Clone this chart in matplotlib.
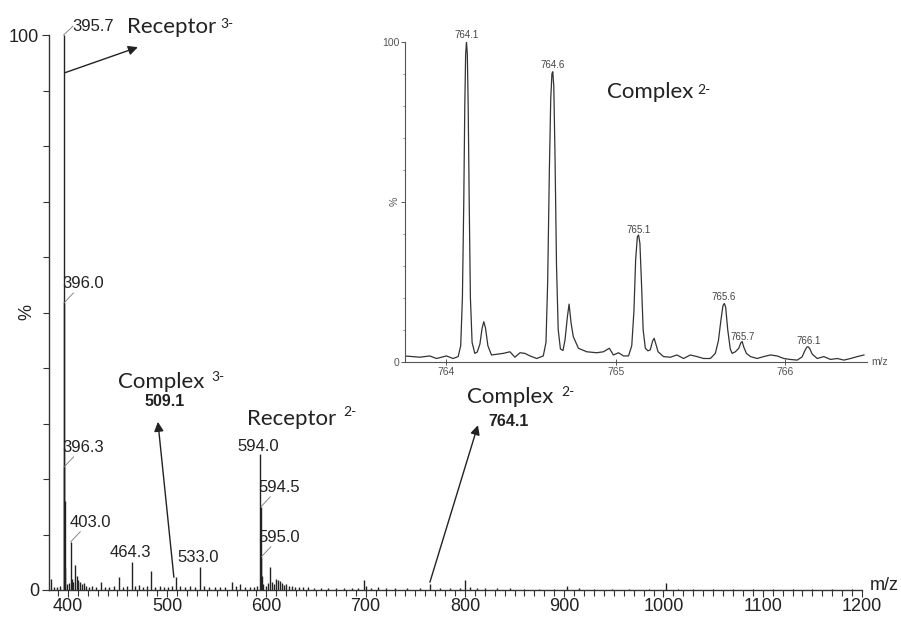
import numpy as np
import matplotlib
matplotlib.use('Agg')
import matplotlib.pyplot as plt
from matplotlib.ticker import MultipleLocator

# main spectrum (centroid sticks), m/z and relative intensity %
main_mz = [383.5, 386, 389, 392, 395.7, 396.0, 396.3, 396.7, 397.3, 399, 401, 403.0,
           404, 405.5, 407, 409, 410.5, 412, 414, 416, 418, 421, 424, 428, 433, 437,
           441, 446, 452, 456, 460, 464.3, 468, 472, 476, 480, 484, 488, 493, 497,
           501, 505, 509, 513, 518, 523, 528, 533.0, 537, 542, 548, 553, 558, 565,
           569, 573, 578, 583, 588, 591, 594.0, 594.5, 595.0, 595.5, 597, 600, 602,
           604, 606, 608, 610, 612, 614, 616, 618, 620, 623, 626, 629, 633, 637, 642,
           648, 655, 662, 670, 678, 686, 692, 698, 700, 705, 712, 720, 730, 742, 755,
           765, 775, 785, 795, 800, 805, 812, 820, 832, 845, 860, 875, 890, 903, 915,
           930, 948, 965, 985, 1003, 1015, 1030, 1050, 1070, 1090, 1110, 1130, 1150,
           1170, 1190]
main_int = [2.0, 0.6, 0.5, 0.8, 100, 51.7, 22.2, 16, 4, 1.0, 1.2, 8.7,
            2, 1.5, 4.5, 2.6, 1.8, 1.5, 1.0, 1.2, 0.8, 0.6, 0.7, 0.5, 1.4, 0.6,
            0.5, 0.7, 2.3, 0.6, 0.8, 5.1, 0.7, 0.9, 0.6, 0.7, 3.4, 0.6, 0.8, 0.5,
            0.6, 0.7, 2.3, 0.8, 0.6, 0.7, 0.5, 4.2, 0.8, 0.6, 0.5, 0.6, 0.5, 1.4,
            0.8, 1.1, 0.5, 0.6, 0.5, 0.7, 24.5, 15, 6, 2.5, 1.0, 0.8, 1.2,
            4.2, 1.5, 1.0, 2.0, 1.8, 1.6, 1.2, 0.9, 1.0, 0.8, 0.7, 0.6, 0.6, 0.5, 0.5,
            0.4, 0.4, 0.3, 0.3, 0.3, 0.4, 0.4, 1.8, 0.8, 0.4, 0.5, 0.3, 0.3, 0.3, 0.3,
            1.0, 0.3, 0.3, 0.4, 1.8, 0.5, 0.4, 0.3, 0.3, 0.3, 0.2, 0.2, 0.2, 0.7, 0.3,
            0.2, 0.2, 0.2, 0.2, 1.2, 0.2, 0.15, 0.15, 0.15, 0.15, 0.15, 0.15, 0.15,
            0.15, 0.15]

# labelled peaks: (label, peak m/z, peak %, label x, label y, ha)
peak_labels = [
    ('395.7', 395.7, 100.0, 404.0, 101.6, 'left'),
    ('396.0', 396.0, 51.7, 394.6, 55.3, 'left'),
    ('396.3', 396.3, 22.2, 394.6, 25.7, 'left'),
    ('403.0', 403.0, 8.7, 401.3, 12.1, 'left'),
    ('464.3', 464.3, 5.1, 462.5, 6.7, 'center'),
    ('533.0', 533.0, 4.2, 531.0, 5.8, 'center'),
    ('594.0', 594.0, 24.5, 591.4, 25.9, 'center'),
    ('594.5', 594.5, 15.0, 592.4, 18.5, 'left'),
    ('595.0', 595.0, 6.0, 592.4, 9.4, 'left'),
]
leader_peaks = ['395.7', '396.0', '396.3', '403.0', '594.5', '595.0']

# inset: profile trace of the Complex 2- isotope cluster
inset_mz = [763.758, 763.847, 763.906, 763.945, 764.004, 764.043, 764.073,
            764.088, 764.098, 764.106, 764.112, 764.117, 764.122, 764.127, 764.132,
            764.138, 764.145, 764.155, 764.171, 764.185, 764.201, 764.214, 764.224,
            764.234, 764.248, 764.269, 764.338, 764.378, 764.407, 764.437, 764.466,
            764.496, 764.535, 764.574, 764.590, 764.600, 764.610, 764.618, 764.625,
            764.630, 764.636, 764.643, 764.652, 764.662, 764.675, 764.690, 764.702,
            764.716, 764.726, 764.738, 764.751, 764.781, 764.830, 764.889, 764.928,
            764.963, 764.987, 765.017, 765.046, 765.076, 765.095, 765.108, 765.118,
            765.128, 765.135, 765.143, 765.152, 765.162, 765.175, 765.190, 765.204,
            765.218, 765.227, 765.237, 765.250, 765.282, 765.322, 765.361, 765.400,
            765.440, 765.479, 765.518, 765.558, 765.587, 765.605, 765.620, 765.632,
            765.640, 765.648, 765.660, 765.675, 765.686, 765.705, 765.725, 765.738,
            765.745, 765.755, 765.770, 765.794, 765.833, 765.872, 765.912, 765.951,
            765.990, 766.029, 766.069, 766.098, 766.112, 766.125, 766.132, 766.142,
            766.157, 766.187, 766.226, 766.265, 766.305, 766.344, 766.383, 766.423,
            766.462]
inset_int = [1.8, 1.4, 1.8, 1.0, 1.8, 1.0, 1.6,
             5.0, 20, 50, 80, 96, 100, 96, 80,
             50, 20, 6.0, 2.6, 3.0, 5.5, 10.5, 12.5,
             10.5, 5.0, 2.1, 2.6, 3.1, 1.4, 2.8, 2.6,
             1.8, 1.0, 1.8, 6.0, 25, 60, 82, 90,
             90.6, 86, 65, 30, 10, 4.0, 3.5, 6.8,
             14, 18.0, 12, 7.8, 4.2, 3.1, 2.8, 3.1,
             4.2, 2.1, 2.8, 1.8, 1.8, 5.0, 16, 32,
             39, 39.6, 37, 25, 10, 4.2, 3.4, 3.7,
             6.5, 7.3, 5.5, 3.1, 1.6, 1.4, 2.1, 1.0,
             2.1, 1.6, 1.0, 1.0, 2.6, 6.5, 13, 17.5,
             18.2, 17, 10, 4.0, 2.6, 3.1, 4.2, 6.0,
             6.3, 4.5, 2.6, 1.6, 1.0, 1.6, 2.1, 1.8,
             1.0, 0.7, 0.5, 1.5, 3.2, 4.5, 4.7, 4.2,
             2.4, 1.0, 1.6, 0.7, 1.0, 0.5, 1.0, 1.6,
             2.1]
inset_labels = [('764.1', 764.122, 102.1), ('764.6', 764.63, 92.6),
                ('765.1', 765.135, 41.3), ('765.6', 765.639, 20.2),
                ('765.7', 765.749, 7.7), ('766.1', 766.136, 6.5)]

num_font = 'Liberation Sans'
name_font = 'Lato'
ink = '#222222'

fig = plt.figure(figsize=(9.01, 6.19), dpi=100)
ax = fig.add_axes([49/901, 1 - 590/619, (862 - 49)/901, 555/619])
ax.vlines(main_mz, 0, main_int, color=ink, lw=1.0)
ax.set_xlim(381, 1200)
ax.set_ylim(0, 100)
for s in ['top', 'right']:
    ax.spines[s].set_visible(False)
for s in ['left', 'bottom']:
    ax.spines[s].set_color('#333333')
    ax.spines[s].set_linewidth(1.0)

ax.xaxis.set_major_locator(MultipleLocator(100))
ax.xaxis.set_minor_locator(MultipleLocator(10))
ax.set_yticks([0, 100])
ax.yaxis.set_minor_locator(MultipleLocator(10))
ax.tick_params(axis='both', which='major', length=5, width=0.8, color='#333333',
               labelsize=13, labelcolor=ink)
ax.tick_params(axis='both', which='minor', length=4, width=0.8, color='#333333')
ax.tick_params(axis='x', pad=0.5)
ax.tick_params(axis='y', pad=2)
for t in ax.get_xticklabels() + ax.get_yticklabels():
    t.set_fontfamily(num_font)
ax.text(-0.017, 0.5, '%', transform=ax.transAxes, rotation=90, ha='right', va='center',
        fontsize=13, family=num_font, color=ink)
ax.text(1.01, 0.008, 'm/z', transform=ax.transAxes, ha='left', va='center',
        fontsize=13, family=num_font, color=ink)

# peak labels with small leaders
for lab, pmz, pint, tx, ty, ha in peak_labels:
    ax.text(tx, ty, lab, ha=ha, va='center', fontsize=12, family=num_font, color=ink)
    if lab in leader_peaks:
        ax.plot([pmz, pmz + 9.5], [pint, pint + 1.6 if pint > 60 else pint + 1.8],
                color='#777777', lw=0.6, clip_on=False)

# species names with arrows
arrow = dict(arrowstyle='-|>', color=ink, lw=1.0, mutation_scale=14,
             shrinkA=0, shrinkB=0)
ax.annotate('', xy=(470.5, 97.8), xytext=(397.0, 93.2), arrowprops=arrow,
            annotation_clip=False)
ax.annotate('', xy=(490.7, 30.3), xytext=(506.8, 2.3), arrowprops=arrow)
ax.annotate('', xy=(813.1, 29.7), xytext=(764.7, 1.4), arrowprops=arrow)

names = [('Receptor', '3-', 459.4, 100.4, 553.5, 101.2),
         ('Complex', '3-', 450.7, 36.4, 545.0, 37.7),
         ('Receptor', '2-', 580.0, 29.7, 677.0, 31.4),
         ('Complex', '2-', 801.7, 33.7, 897.5, 35.0)]
for word, sup, x0, y0, x1, y1 in names:
    ax.text(x0, y0, word, ha='left', va='baseline', fontsize=16, family=name_font,
            color=ink, clip_on=False)
    ax.text(x1, y1, sup, ha='left', va='baseline', fontsize=10, family=name_font,
            color=ink, clip_on=False)
ax.text(497.7, 33.9, '509.1', ha='center', va='center', fontsize=11.5,
        fontweight='bold', family=num_font, color=ink)
ax.text(844.3, 30.3, '764.1', ha='center', va='center', fontsize=11.5,
        fontweight='bold', family=num_font, color=ink)

# inset isotope cluster
axi = fig.add_axes([405/901, 1 - 361.7/619, 462/901, 320/619])
axi.set_facecolor('none')
axi.plot(inset_mz, inset_int, color='#333333', lw=0.9)
axi.set_xlim(763.76, 766.48)
axi.set_ylim(0, 100)
for s in ['top', 'right']:
    axi.spines[s].set_visible(False)
for s in ['left', 'bottom']:
    axi.spines[s].set_color('#555555')
    axi.spines[s].set_linewidth(0.8)
axi.set_xticks([764, 765, 766])
axi.set_yticks([0, 50, 100])
axi.set_yticklabels(['0', '%', '100'])
axi.yaxis.set_minor_locator(MultipleLocator(10))
axi.tick_params(axis='x', which='major', direction='inout', length=5, width=0.7,
                color='#555555', labelsize=7.5, labelcolor='#555555', pad=1)
axi.tick_params(axis='y', which='major', length=3, width=0.7, color='#555555',
                labelsize=7.5, labelcolor='#555555', pad=1)
axi.tick_params(axis='y', which='minor', length=1.5, width=0.6, color='#777777')
for t in axi.get_xticklabels() + axi.get_yticklabels():
    t.set_fontfamily(num_font)
axi.get_yticklabels()[1].set_rotation(90)
axi.get_yticklabels()[1].set_va('center')
axi.text(1.01, 0.0, 'm/z', transform=axi.transAxes, ha='left', va='center',
         fontsize=7.5, family=num_font, color='#555555')
for lab, lx, ly in inset_labels:
    axi.text(lx, ly, lab, ha='center', va='center', fontsize=7, family=num_font,
             color='#444444', clip_on=False)
axi.text(764.948, 82.3, 'Complex', ha='left', va='baseline', fontsize=16,
         family=name_font, color=ink)
axi.text(765.48, 83.6, '2-', ha='left', va='baseline', fontsize=10,
         family=name_font, color=ink)

fig.savefig('out.png', dpi=100, facecolor='white')
